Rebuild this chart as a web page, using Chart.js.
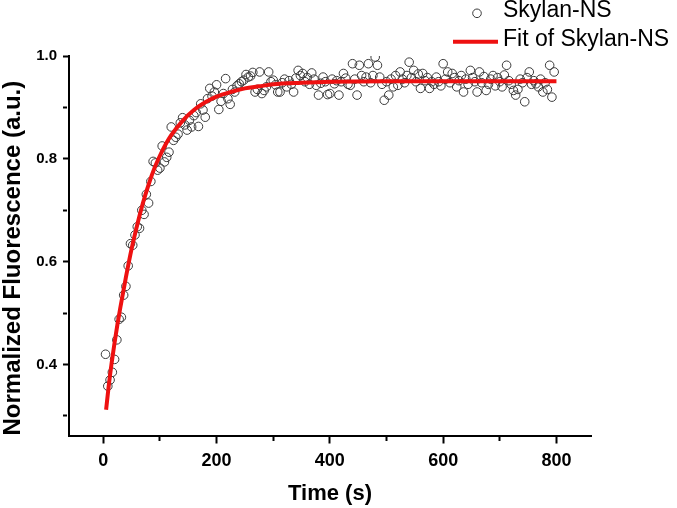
<!DOCTYPE html>
<html>
<head>
<meta charset="utf-8">
<script src="https://cdn.jsdelivr.net/npm/chart.js@4.4.1/dist/chart.umd.min.js"></script>
<style>
  html, body { margin: 0; padding: 0; background: #fff; }
  #wrap { width: 677px; height: 508px; }
</style>
</head>
<body>
<div id="wrap"><canvas id="c" width="677" height="508"></canvas></div>
<script>
// ---- data ----
const seriesLabel = "Skylan-NS";
const fitLabel = "Fit of Skylan-NS";
const xTitle = "Time (s)";
const yTitle = "Normalized Fluorescence (a.u.)";

const sampleTimes = [
  4,8,12,16,20,24,28,32,36,40,44,48,52,56,60,64,68,72,76,80,
  84,88,92,96,100,104,108,112,116,120,124,128,132,136,140,144,148,152,156,160,
  164,168,172,176,180,184,188,192,196,200,204,208,212,216,220,224,228,232,236,240,
  244,248,252,256,260,264,268,272,276,280,284,288,292,296,300,304,308,312,316,320,
  324,328,332,336,340,344,348,352,356,360,364,368,372,376,380,384,388,392,396,400,
  404,408,412,416,420,424,428,432,436,440,444,448,452,456,460,464,468,472,476,480,
  484,488,492,496,500,504,508,512,516,520,524,528,532,536,540,544,548,552,556,560,
  564,568,572,576,580,584,588,592,596,600,604,608,612,616,620,624,628,632,636,640,
  644,648,652,656,660,664,668,672,676,680,684,688,692,696,700,704,708,712,716,720,
  724,728,732,736,740,744,748,752,756,760,764,768,772,776,780,784,788,792,796
];
const sampleValues = [
  0.420,0.358,0.370,0.385,0.410,0.448,0.488,0.492,0.535,0.552,0.592,0.635,0.632,0.652,0.668,0.665,0.700,0.692,0.731,0.714,
  0.756,0.795,0.792,0.778,0.782,0.825,0.794,0.803,0.813,0.862,0.836,0.842,0.848,0.870,0.880,0.866,0.856,0.875,0.862,0.884,
  0.890,0.863,0.907,0.895,0.881,0.917,0.937,0.922,0.930,0.944,0.896,0.912,0.927,0.956,0.917,0.906,0.935,0.930,0.942,0.946,
  0.950,0.953,0.964,0.959,0.961,0.968,0.930,0.935,0.969,0.927,0.933,0.940,0.969,0.950,0.953,0.944,0.930,0.930,0.948,0.955,
  0.940,0.952,0.945,0.930,0.957,0.972,0.962,0.966,0.950,0.958,0.945,0.967,0.955,0.943,0.924,0.947,0.959,0.950,0.925,0.927,
  0.955,0.946,0.952,0.924,0.950,0.966,0.957,0.945,0.943,0.985,0.955,0.924,0.982,0.962,0.950,0.959,0.985,0.948,0.962,0.998,
  0.982,0.959,0.945,0.914,0.950,0.924,0.955,0.940,0.962,0.943,0.969,0.955,0.948,0.962,0.988,0.958,0.972,0.950,0.965,0.937,
  0.966,0.952,0.958,0.937,0.950,0.945,0.959,0.950,0.942,0.985,0.955,0.969,0.948,0.966,0.958,0.940,0.952,0.962,0.930,0.955,
  0.945,0.972,0.958,0.950,0.930,0.969,0.948,0.960,0.933,0.945,0.955,0.962,0.942,0.958,0.950,0.940,0.963,0.982,0.952,0.945,
  0.933,0.924,0.935,0.955,0.948,0.911,0.958,0.969,0.945,0.952,0.946,0.940,0.955,0.930,0.948,0.935,0.982,0.920,0.969
];

const fitTimes  = [5,10,15,20,25,30,40,50,60,70,80,90,100,110,120,140,160,180,200,225,250,275,300,350,400,500,600,700,800];
const fitValues = [0.312,0.362,0.405,0.443,0.478,0.510,0.570,0.625,0.672,0.714,0.750,0.781,0.806,0.828,0.846,0.874,0.895,0.910,0.921,0.930,0.937,0.941,0.945,0.948,0.950,0.951,0.951,0.951,0.951];

// ---- build chart ----
const scatterPoints = sampleTimes.map((t, i) => ({ x: t, y: sampleValues[i] }));
const fitPoints = fitTimes.map((t, i) => ({ x: t, y: fitValues[i] }));

const RED = '#ee1111';
const POINT_EDGE = '#3a3a3a';
const BOLD = '"Liberation Sans", Arial, sans-serif';

const cornerLegend = {
  id: 'cornerLegend',
  afterDraw(chart) {
    const ctx = chart.ctx;
    const ds = chart.data.datasets;
    ctx.save();
    ctx.font = '23px "Liberation Sans", Arial, sans-serif';
    ctx.textBaseline = 'middle';
    ctx.textAlign = 'left';
    ctx.fillStyle = '#000';
    // row 1: hollow circle marker
    ctx.beginPath();
    ctx.arc(477, 13.3, 4.3, 0, Math.PI * 2);
    ctx.lineWidth = 1;
    ctx.strokeStyle = POINT_EDGE;
    ctx.stroke();
    ctx.fillText(ds[0].label, 503, 10.5);
    // row 2: red line
    ctx.beginPath();
    ctx.moveTo(453, 41.7);
    ctx.lineTo(498, 41.7);
    ctx.lineWidth = 4;
    ctx.strokeStyle = RED;
    ctx.stroke();
    ctx.fillText(ds[1].label, 503, 39.5);
    ctx.restore();
  }
};

new Chart(document.getElementById('c'), {
  type: 'scatter',
  data: {
    datasets: [
      {
        label: seriesLabel,
        data: scatterPoints,
        pointRadius: 4.3,
        pointBorderWidth: 1,
        pointBorderColor: POINT_EDGE,
        pointBackgroundColor: 'rgba(0,0,0,0)',
        showLine: false,
        order: 2
      },
      {
        label: fitLabel,
        data: fitPoints,
        showLine: true,
        borderColor: RED,
        borderWidth: 4,
        pointRadius: 0,
        cubicInterpolationMode: 'monotone',
        fill: false,
        order: 1
      }
    ]
  },
  options: {
    responsive: false,
    animation: false,
    devicePixelRatio: 1,
    layout: { padding: { left: 0, top: 56, right: 86, bottom: 0 } },
    plugins: { legend: { display: false }, tooltip: { enabled: false } },
    scales: {
      x: {
        type: 'linear',
        position: 'bottom',
        min: -60.5,
        max: 861,
        afterFit(scale) { scale.height = 72.5; },
        border: { display: true, color: '#000', width: 2 },
        grid: {
          display: true,
          drawOnChartArea: false,
          drawTicks: true,
          tickLength: 8,
          tickWidth: 2,
          tickColor: '#000',
          tickBorderDash: (c) => (Math.round(c.tick.value) % 200 === 0 ? [] : [4, 40])
        },
        ticks: {
          stepSize: 100,
          includeBounds: false,
          autoSkip: false,
          maxRotation: 0,
          padding: 7,
          color: '#000',
          font: { family: BOLD, weight: 'bold', size: 18 },
          callback: (v) => (Math.round(v) % 200 === 0 ? String(Math.round(v)) : '')
        },
        title: {
          display: true,
          text: xTitle,
          color: '#000',
          font: { family: BOLD, weight: 'bold', size: 22 },
          padding: { top: 0, bottom: 1 }
        }
      },
      y: {
        type: 'linear',
        position: 'left',
        min: 0.262,
        max: 1.0,
        afterFit(scale) { scale.width = 69; },
        border: { display: true, color: '#000', width: 2 },
        grid: {
          display: true,
          drawOnChartArea: false,
          drawTicks: true,
          tickLength: 6,
          tickWidth: 2,
          tickColor: '#000',
          tickBorderDash: (c) => (Math.round(c.tick.value * 10) % 2 === 0 ? [] : [4, 40])
        },
        ticks: {
          stepSize: 0.1,
          includeBounds: false,
          autoSkip: false,
          padding: 6,
          color: '#000',
          font: { family: BOLD, weight: 'bold', size: 15 },
          callback: (v) => (Math.round(v * 10) % 2 === 0 ? v.toFixed(1) : '')
        },
        title: {
          display: true,
          text: yTitle,
          align: 'start',
          color: '#000',
          font: { family: BOLD, weight: 'bold', size: 24, lineHeight: 1.1 },
          padding: { top: 0, bottom: 0 }
        }
      }
    }
  },
  plugins: [cornerLegend]
});
</script>
</body>
</html>
